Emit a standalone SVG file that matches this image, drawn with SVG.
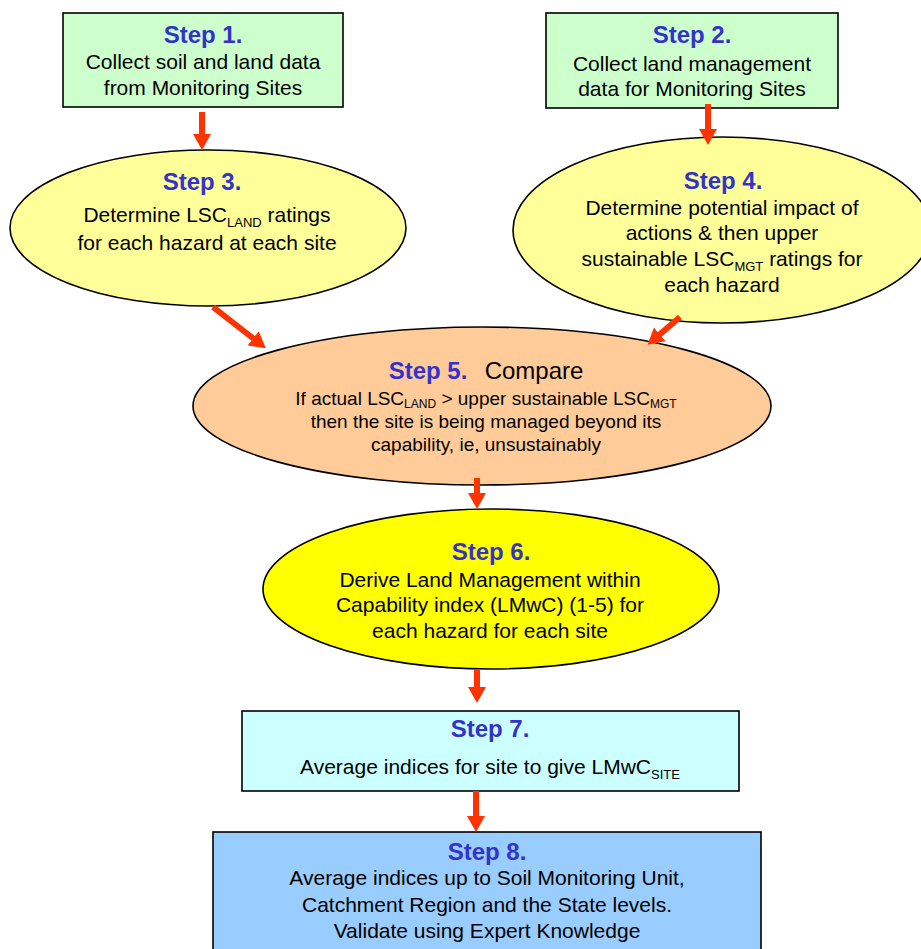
<svg xmlns="http://www.w3.org/2000/svg" width="921" height="949" viewBox="0 0 921 949">
<style>
.shape{stroke:#000;stroke-width:1.6}
.t{font-family:"Liberation Sans",Arial,sans-serif;font-size:21px;fill:#000;text-anchor:middle}
.s{font-family:"Liberation Sans",Arial,sans-serif;font-size:19px;fill:#000;text-anchor:middle}
.h{font-family:"Liberation Sans",Arial,sans-serif;font-size:24px;font-weight:bold;fill:#3333CC;text-anchor:middle}
.sub{font-size:13px}
.sub2{font-size:12px}
.arrow{stroke:#FF3300;stroke-width:6;fill:none;marker-end:url(#ah)}
</style>
<defs>
<marker id="ah" viewBox="0 0 16 18" refX="1" refY="9" markerWidth="16" markerHeight="18" markerUnits="userSpaceOnUse" orient="auto">
<path d="M0,0 L16,9 L0,18 z" fill="#FF3300"/>
</marker>
</defs>
<rect width="921" height="949" fill="#fff"/>

<g id="step1">
<rect class="shape" x="63" y="13" width="280" height="94" fill="#CCFFCC"/>
<text class="h" x="203" y="43">Step 1.</text>
<text class="t" x="203" y="69">Collect soil and land data</text>
<text class="t" x="203" y="95">from Monitoring Sites</text>
</g>

<g id="step2">
<rect class="shape" x="546" y="13" width="292" height="95" fill="#CCFFCC"/>
<text class="h" x="692" y="43">Step 2.</text>
<text class="t" x="692" y="71">Collect land management</text>
<text class="t" x="692" y="96">data for Monitoring Sites</text>
</g>

<g id="step3">
<ellipse class="shape" cx="208" cy="228" rx="198" ry="78" fill="#FFFF99"/>
<text class="h" x="202" y="190">Step 3.</text>
<text class="t" x="207" y="222">Determine LSC<tspan class="sub" dy="5">LAND</tspan><tspan dy="-5"> ratings</tspan></text>
<text class="t" x="207" y="250">for each hazard at each site</text>
</g>

<g id="step4">
<ellipse class="shape" cx="722" cy="230" rx="209" ry="93" fill="#FFFF99"/>
<text class="h" x="723" y="189">Step 4.</text>
<text class="t" x="722" y="215">Determine potential impact of</text>
<text class="t" x="722" y="240">actions &amp; then upper</text>
<text class="t" x="722" y="266">sustainable LSC<tspan class="sub" dy="5">MGT</tspan><tspan dy="-5"> ratings for</tspan></text>
<text class="t" x="722" y="292">each hazard</text>
</g>

<g id="step5">
<ellipse class="shape" cx="482" cy="406" rx="289" ry="79" fill="#FFCC99"/>
<text class="h" x="428" y="379">Step 5.</text>
<text class="t" x="534" y="379" style="font-size:24px">Compare</text>
<text class="s" x="486" y="405">If actual LSC<tspan class="sub2" dy="3">LAND</tspan><tspan dy="-3"> &gt; upper sustainable LSC</tspan><tspan class="sub2" dy="3">MGT</tspan></text>
<text class="s" x="486" y="428">then the site is being managed beyond its</text>
<text class="s" x="486" y="451">capability, ie, unsustainably</text>
</g>

<g id="step6">
<ellipse class="shape" cx="491" cy="589" rx="228" ry="80" fill="#FFFF00"/>
<text class="h" x="491" y="560">Step 6.</text>
<text class="t" x="490" y="587">Derive Land Management within</text>
<text class="t" x="490" y="612">Capability index (LMwC) (1-5) for</text>
<text class="t" x="490" y="638">each hazard for each site</text>
</g>

<g id="step7">
<rect class="shape" x="242" y="711" width="497" height="80" fill="#CCFFFF"/>
<text class="h" x="490" y="737">Step 7.</text>
<text class="t" x="490" y="774">Average indices for site to give LMwC<tspan class="sub" dy="5">SITE</tspan></text>
</g>

<g id="step8">
<rect class="shape" x="213" y="832" width="548" height="130" fill="#99CCFF"/>
<text class="h" x="487" y="860">Step 8.</text>
<text class="t" x="487" y="885">Average indices up to Soil Monitoring Unit,</text>
<text class="t" x="487" y="912">Catchment Region and the State levels.</text>
<text class="t" x="487" y="938">Validate using Expert Knowledge</text>
</g>

<g id="connectors">
<line class="arrow" x1="202" y1="112" x2="202" y2="135"/>
<line class="arrow" x1="708" y1="104" x2="708" y2="130"/>
<line class="arrow" x1="213" y1="307" x2="254" y2="339"/>
<line class="arrow" x1="680" y1="317" x2="659" y2="335"/>
<line class="arrow" x1="477" y1="478" x2="477" y2="494"/>
<line class="arrow" x1="477" y1="669" x2="477" y2="688"/>
<line class="arrow" x1="476" y1="791" x2="476" y2="817"/>
</g>
</svg>
